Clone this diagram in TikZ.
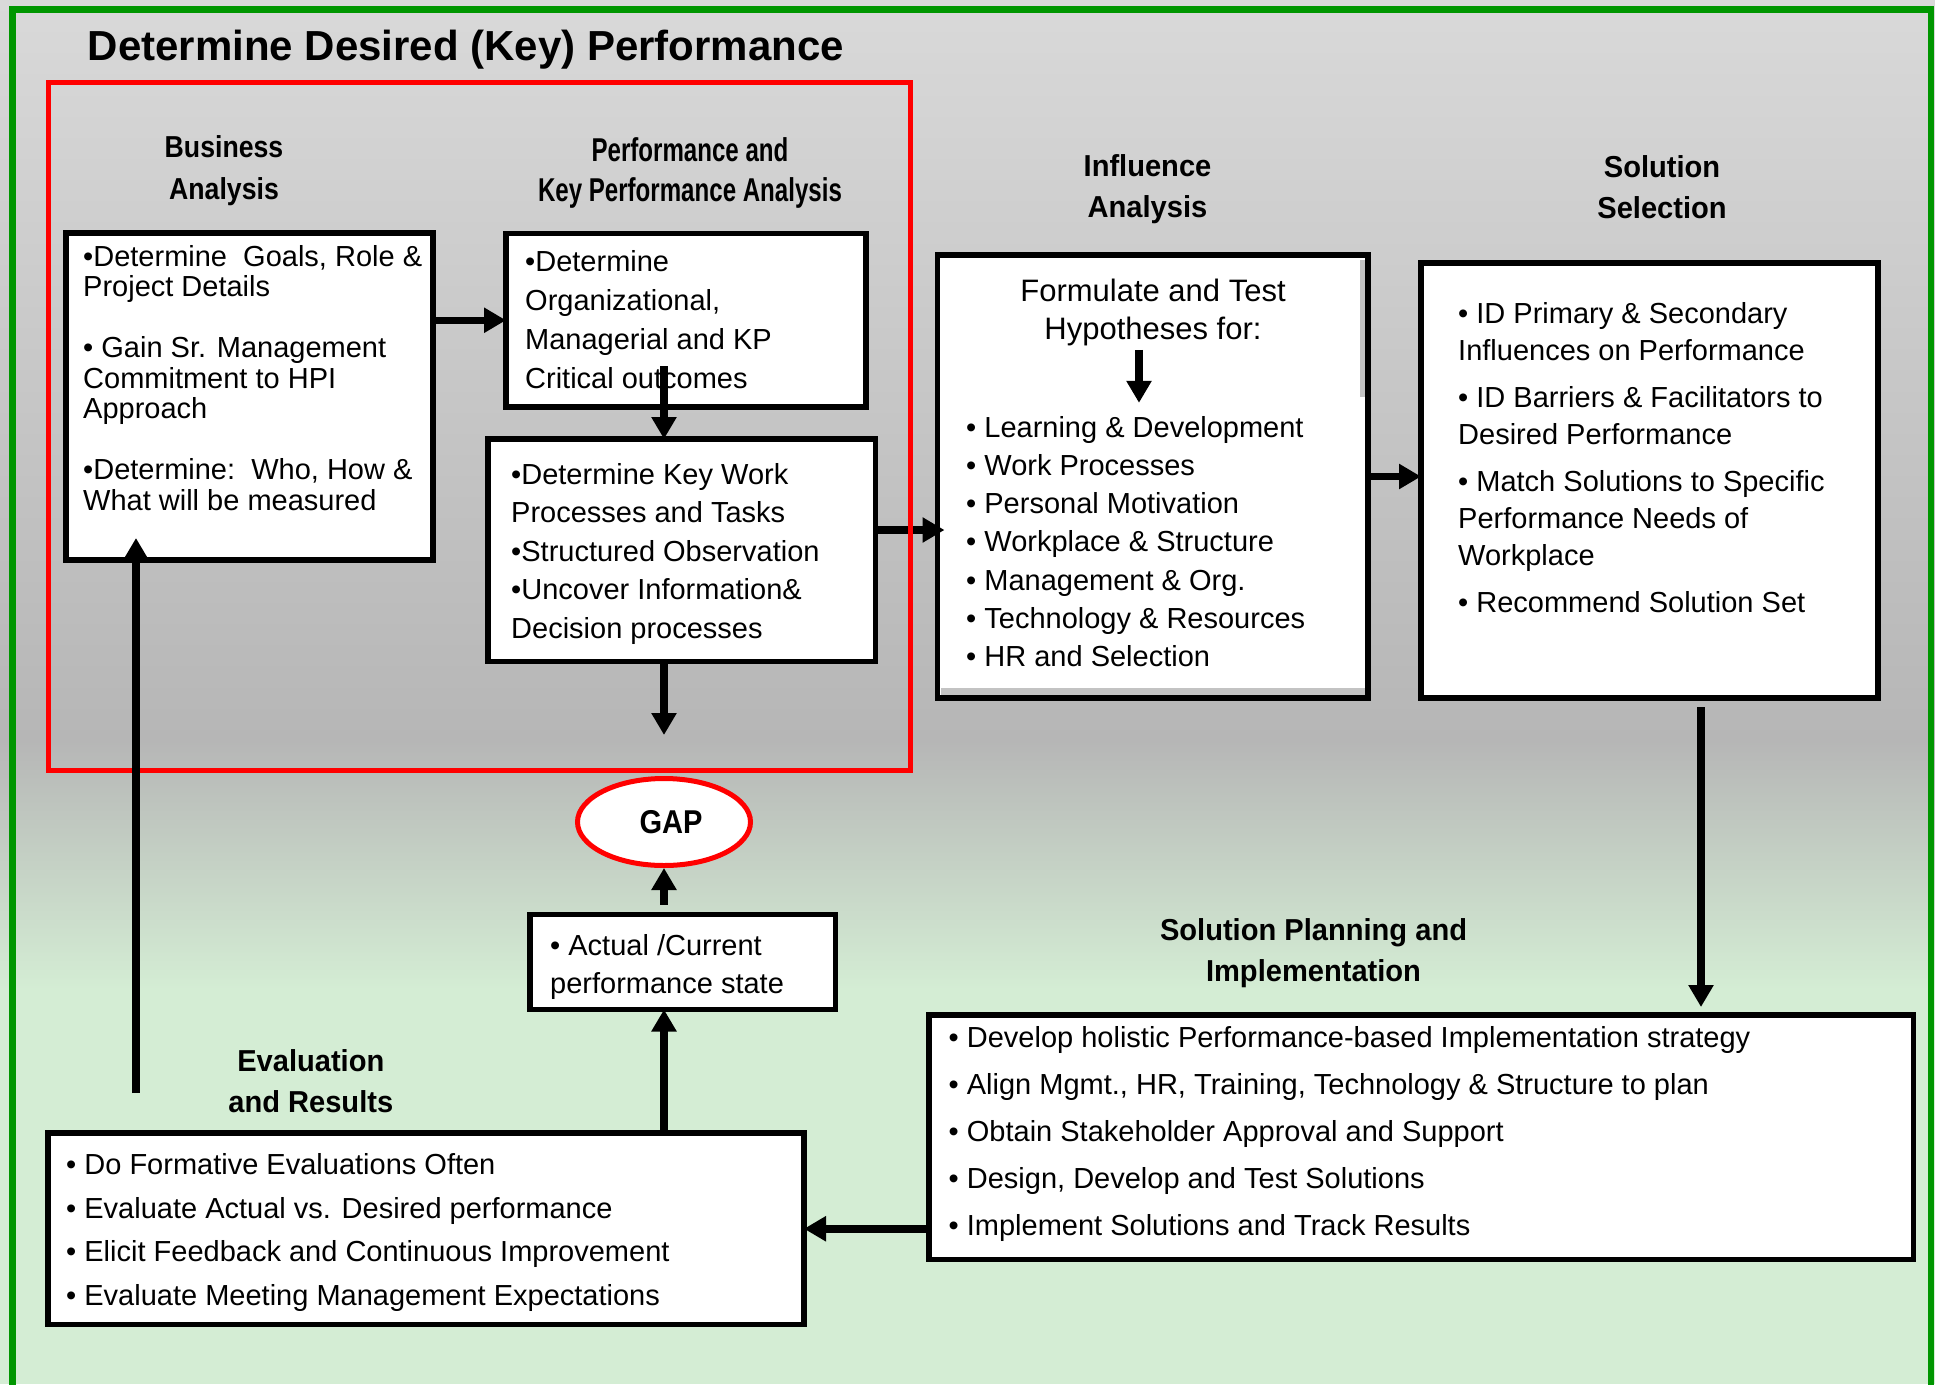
\documentclass[tikz,border=0pt]{standalone}
\usepackage{fontspec}
\setmainfont{Liberation Sans}
\newfontfamily\headfont{Liberation Sans}[FakeStretch=0.96]
\newfontfamily\busfont{Liberation Sans}[FakeStretch=0.88]
\newfontfamily\kpafont{Liberation Sans}[FakeStretch=0.73]
\usetikzlibrary{arrows.meta, positioning, shapes.geometric, calc}

\definecolor{framegreen}{RGB}{0,150,0}
\definecolor{bgtop}{RGB}{217,217,217}
\definecolor{bgmid}{RGB}{182,182,182}
\definecolor{bggreen}{RGB}{212,237,212}
\definecolor{innergray}{RGB}{195,195,195}

\tikzset{
  box/.style={draw, line width=5.5pt, fill=white, inner sep=0pt, outer sep=0pt, anchor=north west},
  heading/.style={align=center, anchor=base, inner sep=0pt, font=\headfont\fontsize{30.3}{41}\selectfont\bfseries},
  txt/.style={align=left, anchor=base west, inner sep=0pt, font=\fontsize{29}{#1}\selectfont},
  flow/.style={line width=7.5pt, -{Triangle[length=22pt, width=24pt]}}
}

\begin{document}
\begin{tikzpicture}[x=1pt, y=-1pt]

  \useasboundingbox (0,0) rectangle (1935,1384);
  \shade[top color=bgtop, bottom color=bgmid] (0,0) rectangle (1935,740);
  \shade[top color=bgmid, bottom color=bggreen] (0,740) rectangle (1935,990);
  \fill[bggreen] (0,990) rectangle (1935,1384);
  \draw[framegreen, line width=6.5pt] (12.7,1390) -- (12.7,9.7) -- (1931,9.7) -- (1931,1390);

  \node[anchor=base west, inner sep=0pt, font=\fontsize{42}{50}\selectfont\bfseries] (title) at (87.6,60) {Determine Desired (Key) Performance};

  % boxes
  \node[box, minimum width=367pt, minimum height=327pt] (ba) at (66,233) {};
  \node[box, minimum width=360pt, minimum height=173.5pt] (pka1) at (506,233.5) {};
  \node[box, minimum width=387.5pt, minimum height=222.5pt] (pka2) at (488,439) {};
  \node[box, minimum width=430.5pt, minimum height=443pt] (infl) at (937.5,255) {};
  \node[box, minimum width=457pt, minimum height=435pt] (sol) at (1421,263) {};
  \node[box, minimum width=305.5pt, minimum height=95pt] (act) at (530,914.5) {};
  \node[box, minimum width=756pt, minimum height=191.5pt] (eval) at (48,1133) {};
  \node[box, minimum width=984.5pt, minimum height=244.5pt] (impl) at (929,1015) {};
  \fill[innergray] (1360,260) rectangle (1365.2,397);
  \fill[innergray] (940.5,688) rectangle (1365.2,695.2);

  \node[ellipse, draw=red, line width=5pt, fill=white, minimum width=173pt, minimum height=87pt, inner sep=0pt,
        font=\busfont\fontsize{33}{40}\selectfont\bfseries] (gap) at (664,822) {\hspace*{14pt}GAP};

  % headings (base = last line)
  \node[heading, font=\busfont\fontsize{30.3}{42}\selectfont\bfseries] (bahead) at (224,199) {Business\\Analysis};
  \node[heading, font=\kpafont\fontsize{33}{40}\selectfont\bfseries] (pkahead) at (690,201) {Performance and\\Key Performance Analysis};
  \node[heading] (inflhead) at (1147.5,217) {Influence\\Analysis};
  \node[heading] (solhead) at (1662,218) {Solution\\Selection};
  \node[heading] (evalhead) at (310.8,1112) {Evaluation\\and Results};
  \node[heading] (implhead) at (1313.5,981) {Solution Planning and\\Implementation};

  % box texts
  \node[txt=30.5] (batext) at (83,510) {•Determine\ \ Goals, Role \&\\Project Details\\[30.5pt]
    • Gain Sr. Management\\Commitment to HPI\\Approach\\[30.5pt]
    •Determine:\ \ Who, How \&\\What will be measured};
  \node[txt=38.9] (pka1text) at (525,388.4) {•Determine\\Organizational,\\Managerial and KP\\Critical outcomes};
  \node[txt=38.5] (pka2text) at (511,638) {•Determine Key Work\\Processes and Tasks\\•Structured Observation\\•Uncover Information\&\\Decision processes};
  \node[align=center, anchor=base, inner sep=0pt, font=\fontsize{31}{37.5}\selectfont] (hyp) at (1153,339.2) {Formulate and Test\\Hypotheses for:};
  \node[txt=38.3] (infltext) at (966,666.8) {• Learning \& Development\\• Work Processes\\• Personal Motivation\\• Workplace \& Structure\\
    • Management \& Org.\\• Technology \& Resources\\• HR and Selection};
  \node[txt=37] (soltext) at (1458,612) {• ID Primary \& Secondary\\Influences on Performance\\[10pt]
    • ID Barriers \& Facilitators to\\Desired Performance\\[10pt]
    • Match Solutions to Specific\\Performance Needs of\\Workplace\\[10pt]
    • Recommend Solution Set};
  \node[txt=38] (acttext) at (550,993) {• Actual /Current\\performance state};
  \node[txt=43.6] (evaltext) at (66,1305.5) {• Do Formative Evaluations Often\\• Evaluate Actual vs. Desired performance\\
    • Elicit Feedback and Continuous Improvement\\• Evaluate Meeting Management Expectations};
  \node[txt=47] (impltext) at (948.5,1235) {• Develop holistic Performance-based Implementation strategy\\
    • Align Mgmt., HR, Training, Technology \& Structure to plan\\• Obtain Stakeholder Approval and Support\\
    • Design, Develop and Test Solutions\\• Implement Solutions and Track Results};

  \coordinate (gapin) at (664,735);
  \coordinate (loopstart) at (136,1093);

  % connectors
  \draw[flow] (ba.east |- pka1.west) -- (pka1.west);
  \draw[flow] ($(gap |- pka1.south)+(0,-41)$) -- (gap |- pka2.north);
  \draw[flow] (gap |- pka2.south) -- (gapin);
  \draw[flow] ($(pka2.north east)+(0,91)$) -- ($(infl.west |- pka2.north east)+(7,91)$);
  \draw[flow] ([xshift=-14pt, yshift=-4pt]hyp.south) -- ([xshift=-14pt, yshift=-57pt]hyp.south);
  \draw[flow] (infl.east) -- (sol.west |- infl.east);
  \draw[flow] ($(sol.south)+(51.5,9)$) -- ($(sol.south |- impl.north)+(51.5,-8)$);
  \draw[flow] (impl.west |- eval.east) -- (eval.east);
  \draw[flow] (gap |- eval.north) -- (gap |- act.south);
  \draw[flow] ($(gap |- act.north)+(0,-10)$) -- (gap.south);

  \node[draw=red, line width=5pt, inner sep=0pt, outer sep=0pt, anchor=north west,
        minimum width=861.5pt, minimum height=688pt] (desired) at (48.5,82.5) {};

  \draw[flow] (loopstart) -- ($(loopstart |- ba.south)+(0,-22)$);

\end{tikzpicture}
\end{document}
